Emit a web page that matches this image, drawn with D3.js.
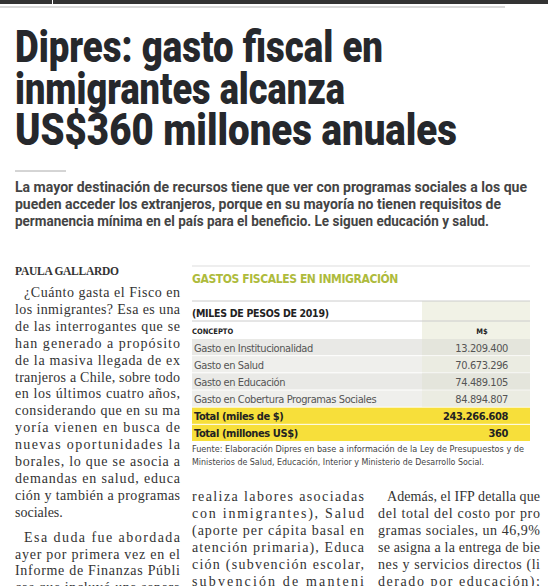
<!DOCTYPE html>
<html><head><meta charset="utf-8">
<script src="https://cdn.jsdelivr.net/npm/d3@7"></script>
<style>body{margin:0;background:#fff}</style></head>
<body><svg id="c" width="548" height="586"></svg>
<script>
const titleLines = ["Dipres: gasto fiscal en","inmigrantes alcanza","US$360 millones anuales"];
const subtitleLines = ["La mayor destinación de recursos tiene que ver con programas sociales a los que","pueden acceder los extranjeros, porque en su mayoría no tienen requisitos de","permanencia mínima en el país para el beneficio. Le siguen educación y salud."];
const concepts = ["Gasto en Institucionalidad","Gasto en Salud","Gasto en Educación","Gasto en Cobertura Programas Sociales"];
const values = ["13.209.400","70.673.296","74.489.105","84.894.807"];
const totalLabels = ["Total (miles de $)","Total (millones US$)"];
const totalValues = ["243.266.608","360"];
const col1 = [["¿Cuánto gasta el Fisco en","los inmigrantes? Esa es una","de las interrogantes que se","han generado a propósito","de la masiva llegada de ex","tranjeros a Chile, sobre todo","en los últimos cuatro años,","considerando que en su ma","yoría vienen en busca de","nuevas oportunidades la","borales, lo que se asocia a","demandas en salud, educa","ción y también a programas","sociales."],["Esa duda fue abordada","ayer por primera vez en el","Informe de Finanzas Públi","cas que incluyó una separa"]];
const col2 = [["realiza labores asociadas","con inmigrantes), Salud","(aporte per cápita basal en","atención primaria), Educa","ción (subvención escolar,","subvención de manteni"]];
const col3 = [["Además, el IFP detalla que","del total del costo por pro","gramas sociales, un 46,9%","se asigna a la entrega de bie","nes y servicios directos (li","derado por educación);"]];

const svg = d3.select("#c");
svg.append("rect").attr("x",0).attr("y",0).attr("width",548).attr("height",4).attr("fill","#333");
svg.append("rect").attr("x",52).attr("y",0).attr("width",1).attr("height",4).attr("fill","#fff");
svg.append("line").attr("x1",0).attr("x2",505).attr("y1",7).attr("y2",7).attr("stroke","#ccc").attr("stroke-width",1.5);

const tW=[368,330,442];
svg.selectAll(".t").data(titleLines).join("text").attr("x",15).attr("y",(d,i)=>62+i*41.5)
 .attr("font-family","Roboto").attr("font-weight",900).attr("font-size",45).attr("fill","#26282c")
 .attr("textLength",(d,i)=>tW[i]).attr("lengthAdjust","spacingAndGlyphs").text(d=>d);
svg.append("line").attr("x1",15).attr("x2",66).attr("y1",171).attr("y2",171).attr("stroke","#aaa");
const sW=[512,486,474];
svg.selectAll(".s").data(subtitleLines).join("text").attr("x",15).attr("y",(d,i)=>192+i*17)
 .attr("font-family","Roboto").attr("font-weight",700).attr("font-size",14).attr("fill","#444")
 .attr("textLength",(d,i)=>sW[i]).attr("lengthAdjust","spacingAndGlyphs").text(d=>d);

function column(paras,x0,x1,y0,lh,indentFirst){
  let y=y0;
  paras.forEach((p,pi)=>{
    p.forEach((l,li)=>{
      const ind = li===0 && indentFirst?9:0;
      const t=svg.append("text").attr("x",x0+ind).attr("y",y).attr("font-family","Liberation Serif")
        .attr("font-size",14).attr("fill","#333").text(l);
      if(!(li===p.length-1 && l.endsWith("."))) t.attr("textLength",x1-x0-ind).attr("lengthAdjust","spacing");
      y+=lh;
    });
    y+=8;
  });
}
svg.append("text").attr("x",15).attr("y",275).attr("font-family","Liberation Serif").attr("font-weight",700)
 .attr("font-size",11.5).attr("fill","#333").attr("textLength",104).text("PAULA GALLARDO");
column(col1,15,180,297,16.9,true);
column(col2,192,364,501,16.9,false);
column(col3,378,540,501,16.9,true);

// table
const tx0=192,tx1=530,vx0=422;
svg.append("line").attr("x1",tx0).attr("x2",tx1).attr("y1",266).attr("y2",266).attr("stroke","#ddd");
svg.append("text").attr("x",tx0).attr("y",283).attr("font-family","DejaVu Sans Condensed").attr("font-weight",700)
 .attr("font-size",12).attr("fill","#aebb3c").attr("letter-spacing",-0.4).text("GASTOS FISCALES EN INMIGRACIÓN");
svg.append("rect").attr("x",vx0).attr("y",301).attr("width",tx1-vx0).attr("height",38).attr("fill","#f1f2e6");
[301,321].forEach(y=>svg.append("line").attr("x1",tx0).attr("x2",tx1).attr("y1",y).attr("y2",y).attr("stroke","#ccc"));
svg.append("text").attr("x",tx0).attr("y",317).attr("font-family","DejaVu Sans Condensed").attr("font-weight",700)
 .attr("font-size",10.5).attr("fill","#222").attr("letter-spacing",-0.3).text("(MILES DE PESOS DE 2019)");
svg.append("text").attr("x",tx0).attr("y",334).attr("font-family","DejaVu Sans Condensed").attr("font-weight",700)
 .attr("font-size",7.5).attr("fill","#222").text("CONCEPTO");
svg.append("text").attr("x",482).attr("y",334).attr("text-anchor","middle").attr("font-family","DejaVu Sans Condensed").attr("font-weight",700)
 .attr("font-size",7.5).attr("fill","#222").text("M$");

const allLabels = concepts.concat(totalLabels);
const y = d3.scaleBand().domain(allLabels).range([339,442]).paddingInner(0);
const rows = svg.selectAll(".r").data(allLabels).join("g").attr("transform",d=>`translate(0,${y(d)})`);
rows.append("rect").attr("x",tx0).attr("width",tx1-tx0).attr("height",y.bandwidth()-1)
 .attr("fill",(d,i)=>i>=4?"#f7df3a":(i%2===0?"#e9e9e6":"#efefec"));
rows.filter((d,i)=>i<4).append("rect").attr("x",vx0).attr("width",tx1-vx0).attr("height",y.bandwidth()-1)
 .attr("fill",(d,i)=>i%2===0?"#e4e5dc":"#ebece2");
const vals = values.concat(totalValues);
rows.append("text").attr("x",tx0+2).attr("y",y.bandwidth()/2+4).attr("font-family","DejaVu Sans Condensed")
 .attr("font-weight",(d,i)=>i>=4?700:400).attr("font-size",11).attr("fill",(d,i)=>i>=4?"#222":"#555")
 .attr("letter-spacing",-0.4).text(d=>d);
rows.append("text").attr("x",508).attr("text-anchor","end").attr("y",y.bandwidth()/2+4).attr("font-family","DejaVu Sans Condensed")
 .attr("font-weight",(d,i)=>i>=4?700:400).attr("font-size",11).attr("fill",(d,i)=>i>=4?"#222":"#555")
 .attr("letter-spacing",-0.4).text((d,i)=>vals[i]);
const fuente=["Fuente: Elaboración Dipres en base a información de la Ley de Presupuestos y de","Ministerios de Salud, Educación, Interior y Ministerio de Desarrollo Social."];
svg.selectAll(".f").data(fuente).join("text").attr("x",tx0).attr("y",(d,i)=>452+i*12.5)
 .attr("font-family","DejaVu Sans Condensed").attr("font-size",8).attr("fill","#444")
 .attr("textLength",(d,i)=>i?292:332).attr("lengthAdjust","spacingAndGlyphs").text(d=>d);
</script></body></html>
